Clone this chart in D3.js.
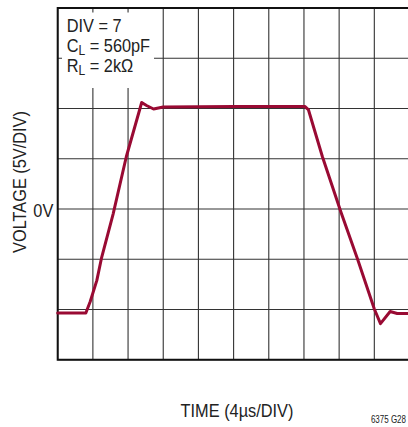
<!DOCTYPE html>
<html>
<head>
<meta charset="utf-8">
<script src="https://cdn.jsdelivr.net/npm/d3@7"></script>
<style>
  html, body { margin: 0; padding: 0; background: #fff; }
  svg { display: block; }
  text { font-family: "Liberation Sans", Arial, Helvetica, sans-serif; fill: #222; }
</style>
</head>
<body>
<svg id="chart" width="408" height="427"></svg>
<script>
// ---- data ----
const timeUs = [0, 3.2, 3.7, 4.45, 5.0, 6.3, 7.8, 9.55, 10.1, 10.9, 12.0, 20, 28.1, 28.5, 30.1, 32.2, 34.1, 36.0, 36.7, 37.8, 38.6, 40];
const volts  = [-10.35, -10.35, -9.2, -7.1, -4.8, -0.5, 5.2, 10.6, 10.3, 9.95, 10.15, 10.2, 10.2, 9.9, 5.2, -0.3, -5.0, -9.95, -11.4, -10.2, -10.4, -10.4];
const xGridUs = [0, 4, 8, 12, 16, 20, 24, 28, 32, 36, 40];
const yGridV  = [-15, -10, -5, 0, 5, 10, 15, 20];
const infoLines = [["DIV = 7", ""], ["C", "L", " = 560pF"], ["R", "L", " = 2kΩ"]];
const xTitle = "TIME (4µs/DIV)";
const yTitle = "VOLTAGE (5V/DIV)";
const zeroLabel = "0V";
const figId = "6375 G28";

const svg = d3.select("#chart");
const L = 57.7, R = 409.5, T = 8, B = 359.8;
const x = d3.scaleLinear().domain([0, 40]).range([L, R]);
const y = d3.scaleLinear().domain([-15, 20]).range([B, T]);
const SX = 0.86;

// grid
const g = svg.append("g");
g.selectAll("line.vx").data(xGridUs).join("line")
  .attr("x1", d => x(d)).attr("x2", d => x(d)).attr("y1", T).attr("y2", B)
  .attr("stroke", "#333").attr("stroke-width", 1.1);
g.selectAll("line.hy").data(yGridV).join("line")
  .attr("y1", d => y(d)).attr("y2", d => y(d)).attr("x1", L).attr("x2", R)
  .attr("stroke", "#333").attr("stroke-width", 1.1);

// info box
svg.append("rect").attr("x", 62).attr("y", 12.5).attr("width", 92).attr("height", 75.5).attr("fill", "#fff");
const info = svg.append("g");
infoLines.forEach((ln, i) => {
  const t = info.append("text")
    .attr("transform", `translate(66.7,${31.7 + i * 20}) scale(${SX},1)`)
    .attr("font-size", 19);
  if (ln.length === 2) {
    t.text(ln[0]);
  } else {
    t.append("tspan").text(ln[0]);
    t.append("tspan").attr("font-size", 14).attr("dy", 3.5).text(ln[1]);
    t.append("tspan").attr("dy", -3.5).text(ln[2]);
  }
});

// border
svg.append("path")
  .attr("d", `M${R + 2},${T} H${L} V${B} H${R + 2}`)
  .attr("fill", "none").attr("stroke", "#111").attr("stroke-width", 2);

// trace
const line = d3.line().x(d => x(d[0])).y(d => y(d[1])).curve(d3.curveLinear);
svg.append("path")
  .datum(timeUs.map((t, i) => [t, volts[i]]))
  .attr("d", line)
  .attr("fill", "none").attr("stroke", "#990a33").attr("stroke-width", 3)
  .attr("stroke-linejoin", "round").attr("stroke-linecap", "round");

// labels
svg.append("text")
  .attr("transform", `translate(53.3,${y(0) + 8}) scale(${SX},1)`)
  .attr("text-anchor", "end").attr("font-size", 19).text(zeroLabel);
svg.append("text")
  .attr("transform", `translate(25.7,182) rotate(-90) scale(${SX},1)`)
  .attr("text-anchor", "middle").attr("font-size", 19).text(yTitle);
svg.append("text")
  .attr("transform", `translate(237,417.3) scale(${SX},1)`)
  .attr("text-anchor", "middle").attr("font-size", 19).text(xTitle);
svg.append("text")
  .attr("transform", `translate(406,423) scale(0.8,1)`)
  .attr("text-anchor", "end").attr("font-size", 10).text(figId);
</script>
</body>
</html>
